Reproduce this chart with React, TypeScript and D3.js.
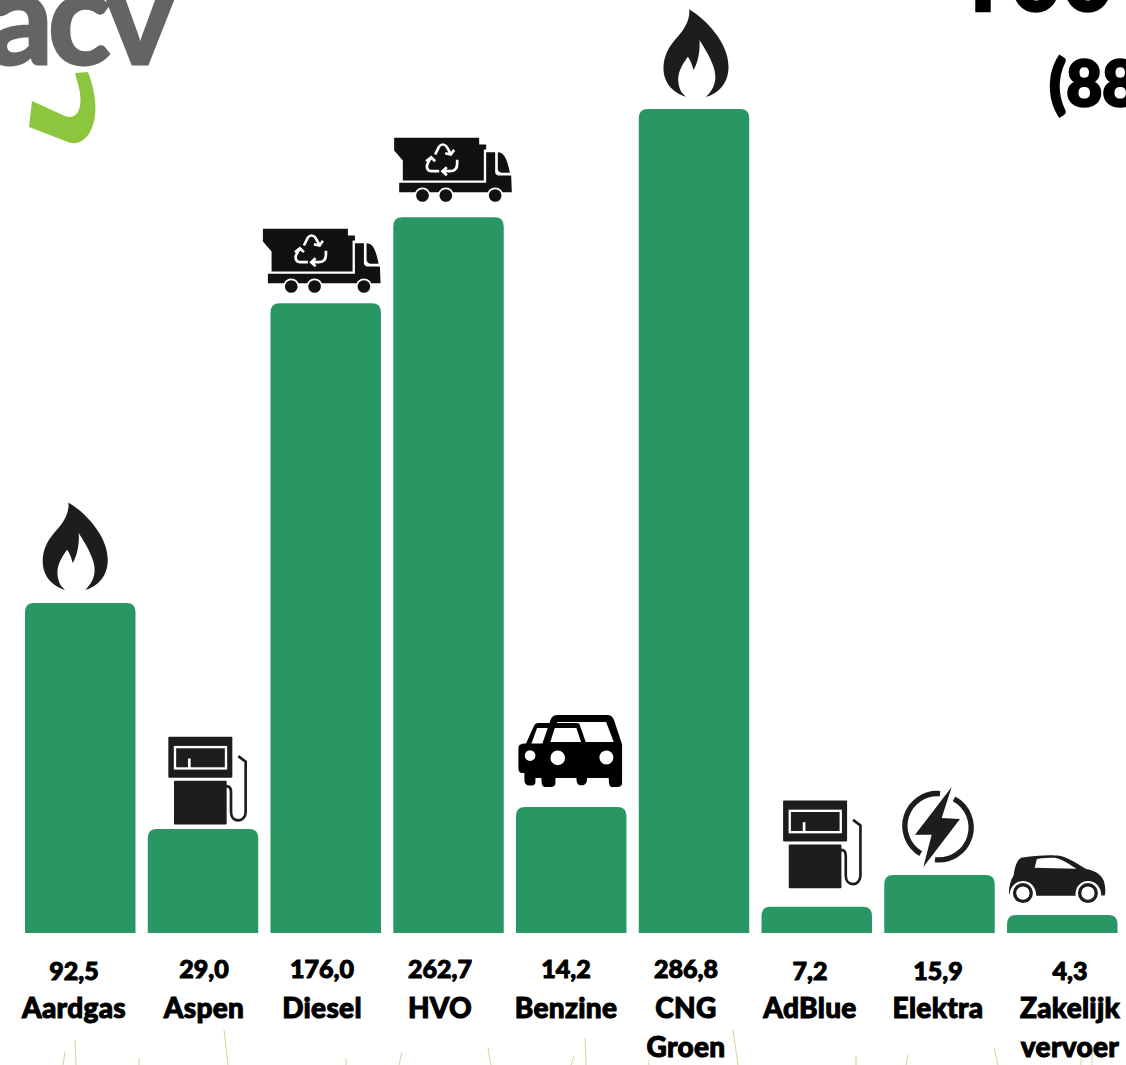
import { path as d3Path, scaleBand, scaleLinear } from "d3";
import type { ReactNode } from "react";

const WIDTH = 1126;
const HEIGHT = 1065;

const categories = ["Aardgas", "Aspen", "Diesel", "HVO", "Benzine", "CNG Groen", "AdBlue", "Elektra", "Zakelijk vervoer"];
const valueLabels = ["92,5", "29,0", "176,0", "262,7", "14,2", "286,8", "7,2", "15,9", "4,3"];
// the bars in the picture are not to scale with their printed values, so these are read from the bar heights
const barLevels = [92.1, 29.0, 175.8, 199.8, 35.2, 230, 7.3, 16.2, 5.0];
const iconNames = ["flame", "pump", "truck", "truck", "cars", "flame", "pump", "bolt", "car"];

// layout
const iconOffsets = [-5, 4.5, -4, 4.5, -1, 2, 5.5, -2, -5];
const iconGaps = [13, 4, 10, 15, 20, 12, 18, 8, 12];
const labelCenters = [74, 204, 322, 440, 566, 686, 810, 938, 1070];
const valueBaselines = [980, 978, 978, 978, 978, 978, 980, 980, 980];
const grassBlades = [
  [65, 1052, 63, 1065], [75, 1040, 76, 1065], [139, 1058, 139, 1065], [224, 1030, 228, 1065],
  [346, 1058, 346, 1065], [402, 1052, 399, 1065], [488, 1048, 491, 1065], [574, 1056, 571, 1065],
  [585, 1038, 586, 1065], [649, 1060, 649, 1065], [733, 1030, 738, 1065], [856, 1056, 856, 1065],
  [908, 1055, 906, 1065], [994, 1048, 998, 1065], [1081, 1058, 1081, 1065], [1092, 1050, 1092, 1065],
];

const baseline = 933;
const x = scaleBand<string>().domain(categories).range([25, 1117.5]).paddingInner(0.1).paddingOuter(0);
const y = scaleLinear().domain([0, 230]).range([baseline, 109]);

const FONT = "Lato, 'Noto Sans', sans-serif";
const DARK = "#1d1d1b";

function barPath(x0: number, top: number, w: number, r: number) {
  const p = d3Path();
  p.moveTo(x0, baseline);
  p.lineTo(x0, top + r);
  p.quadraticCurveTo(x0, top, x0 + r, top);
  p.lineTo(x0 + w - r, top);
  p.quadraticCurveTo(x0 + w, top, x0 + w, top + r);
  p.lineTo(x0 + w, baseline);
  p.closePath();
  return p.toString();
}

// icons are drawn in 3x picture pixels; box = [left, right, bottom]
const iconBoxes: Record<string, [number, number, number]> = {
  flame: [70, 265, 291],
  pump: [85, 320, 375],
  truck: [417, 770, 215],
  cars: [1134, 1445, 262],
  bolt: [430, 635, 262],
  car: [748, 1038, 368],
};

const iconShapes: Record<string, ReactNode> = {
  flame: (
    <path
      fill={DARK}
      d="M147,28 C200,60 265,130 265,200 C265,250 235,280 197,291 C225,265 232,235 220,200 C210,170 190,140 178,120 C180,150 175,185 160,210 C155,190 150,180 143,170 C125,195 110,220 115,250 C118,270 125,280 137,290 C100,280 70,250 70,205 C70,150 105,120 125,95 C140,75 150,50 147,28 Z"
    />
  ),
  pump: (
    <g>
      <rect x={85} y={110} width={192} height={123} rx={3} fill={DARK} />
      <rect x={105} y={141} width={153} height={64} fill="none" stroke="#fff" strokeWidth={7} />
      <line x1={148} y1={175} x2={148} y2={205} stroke="#fff" strokeWidth={8} />
      <rect x={102} y={242} width={158} height={131} rx={3} fill={DARK} />
      <path
        d="M258,258 C268,258 273,265 273,275 L273,335 C273,352 283,361 295,361 C308,361 317,350 317,335 L317,185 L295,168"
        fill="none"
        stroke={DARK}
        strokeWidth={8}
      />
    </g>
  ),
  truck: (
    <g>
      <path fill="#111110" d="M417,22 L672,22 L672,42 L693,42 L693,57 L686,57 L686,150 L443,150 L443,90 L417,60 Z" />
      <path fill="#111110" d="M693,65 L720,65 L720,125 C720,132 728,135 735,135 L768,135 L770,185 L432,185 L432,157 L693,157 Z" />
      <path fill="#111110" d="M728,65 C745,65 755,80 764,127 L740,127 C732,127 728,120 728,115 Z" />
      {[502, 572, 720].map((cx) => (
        <g key={cx}>
          <circle cx={cx} cy={195} r={24} fill="#fff" />
          <circle cx={cx} cy={195} r={19} fill="#111110" />
        </g>
      ))}
      <g fill="none" stroke="#fff" strokeWidth={8}>
        <path d="M540,72 L552,48 C558,40 568,40 574,48 L587,70 M597,58 L587,72 L570,68" />
        <path d="M606,88 L606,100 C606,118 595,122 585,122 L565,122 M575,110 L562,122 L575,134" />
        <path d="M552,122 L530,122 C515,122 512,108 518,98 L527,82 M513,92 L528,80 L540,92" />
      </g>
    </g>
  ),
  cars: (
    <g>
      <path
        fill="#000"
        d="M1228,70 C1230,55 1238,46 1250,46 L1400,46 C1412,46 1418,52 1422,65 L1445,135 L1445,250 C1445,258 1440,262 1430,262 L1415,262 C1408,262 1405,255 1405,235 L1340,235 C1340,250 1335,257 1323,257 C1312,257 1308,250 1308,235 L1245,235 L1245,250 C1245,258 1240,262 1230,262 L1215,262 C1206,262 1203,255 1203,235 L1185,235 L1185,248 C1185,255 1180,258 1170,258 C1157,258 1152,252 1152,240 L1152,220 L1145,220 C1138,220 1134,215 1134,205 L1134,145 C1134,137 1140,132 1157,132 L1180,80 C1183,73 1188,70 1195,70 Z"
      />
      <path fill="#fff" d="M1250,67 L1397,67 L1420,127 L1336,127 L1317,73 C1315,70 1310,70 1250,70 Z" />
      <path fill="#fff" d="M1243,85 L1308,85 L1322,127 L1230,127 Z" />
      <path fill="#fff" d="M1190,85 L1222,85 L1206,132 L1173,132 Z" />
      <circle cx={1169} cy={168} r={16} fill="#fff" />
      <circle cx={1252} cy={175} r={22} fill="#fff" />
      <circle cx={1398} cy={174} r={21} fill="#fff" />
    </g>
  ),
  bolt: (
    <g>
      <path fill={DARK} d="M575,22 L545,115 L600,118 L490,262 L515,165 L465,165 Z" />
      <path fill="none" stroke={DARK} strokeWidth={16} d="M540,42 A97,97 0 0 0 482,222" />
      <path fill="none" stroke={DARK} strokeWidth={16} d="M582,58 A97,97 0 0 1 525,240" />
    </g>
  ),
  car: (
    <g>
      <path
        fill={DARK}
        d="M748,340 C748,320 752,300 762,285 C765,265 770,240 785,232 C820,226 870,222 900,226 C930,232 960,255 980,266 C1010,272 1030,285 1035,310 C1038,325 1038,340 1035,345 L1025,345 C1025,320 1008,302 985,302 C962,302 946,322 948,346 L830,346 C830,320 812,302 790,302 C768,302 752,320 750,342 Z"
      />
      <path fill="#fff" d="M825,262 L832,236 C850,232 870,232 885,232 C910,236 930,252 950,265 Z" />
      <circle cx={790} cy={338} r={25} fill="#fff" stroke={DARK} strokeWidth={10} />
      <circle cx={985} cy={338} r={25} fill="#fff" stroke={DARK} strokeWidth={10} />
    </g>
  ),
};

function Icon({ name, cx, bottom }: { name: string; cx: number; bottom: number }) {
  const [left, right, low] = iconBoxes[name];
  const tx = cx - (left + right) / 6;
  const ty = bottom - low / 3;
  return <g transform={`translate(${tx},${ty}) scale(${1 / 3})`}>{iconShapes[name]}</g>;
}

export default function App() {
  return (
    <svg
      width={WIDTH}
      height={HEIGHT}
      viewBox={`0 0 ${WIDTH} ${HEIGHT}`}
      style={{ position: "absolute", left: 0, top: 0, background: "#fff" }}
      fontFamily={FONT}
    >
      {/* logo, cut by the top edge */}
      <text x={-13} y={64} fontSize={130} fontWeight={700} fill="#636466" stroke="#636466" strokeWidth={3} letterSpacing={-5}>
        acv
      </text>
      <path
        fill="#8cc63f"
        d="M75,73 L88,72 C95,90 98,110 93,125 C88,140 78,146 68,142 L29,127 L32,101 L65,116 C72,119 79,115 80,105 C82,95 78,85 75,73 Z"
      />

      {/* title, cut by the page edges */}
      <text x={957} y={11} fontSize={86} fontWeight={900} fill="#000" stroke="#000" strokeWidth={2.5} letterSpacing={2}>
        T00
      </text>
      <text x={1049} y={106} fontSize={62} fontWeight={900} fill="#000" stroke="#000" strokeWidth={2.5}>
        (888,6 ton)
      </text>

      {grassBlades.map(([x1, y1, x2, y2], i) => (
        <line key={i} x1={x1} y1={y1} x2={x2} y2={y2} stroke="#a5cf6b" strokeWidth={0.7} />
      ))}

      {categories.map((cat, i) => {
        const x0 = x(cat) as number;
        const top = y(barLevels[i]);
        const lines = cat === "CNG Groen" ? ["CNG", "Groen"] : cat === "Zakelijk vervoer" ? ["Zakelijk", "vervoer"] : [cat];
        return (
          <g key={cat}>
            <path d={barPath(x0, top, x.bandwidth(), 9)} fill="#299764" />
            <Icon name={iconNames[i]} cx={x0 + x.bandwidth() / 2 + iconOffsets[i]} bottom={top - iconGaps[i]} />
            <g textAnchor="middle" fill="#000" stroke="#000" strokeWidth={1} fontWeight={900}>
              <text x={labelCenters[i]} y={valueBaselines[i]} fontSize={25}>
                {valueLabels[i]}
              </text>
              {lines.map((line, j) => (
                <text key={line} x={labelCenters[i]} y={1018 + j * 39} fontSize={28} letterSpacing={0.3}>
                  {line}
                </text>
              ))}
            </g>
          </g>
        );
      })}
    </svg>
  );
}
